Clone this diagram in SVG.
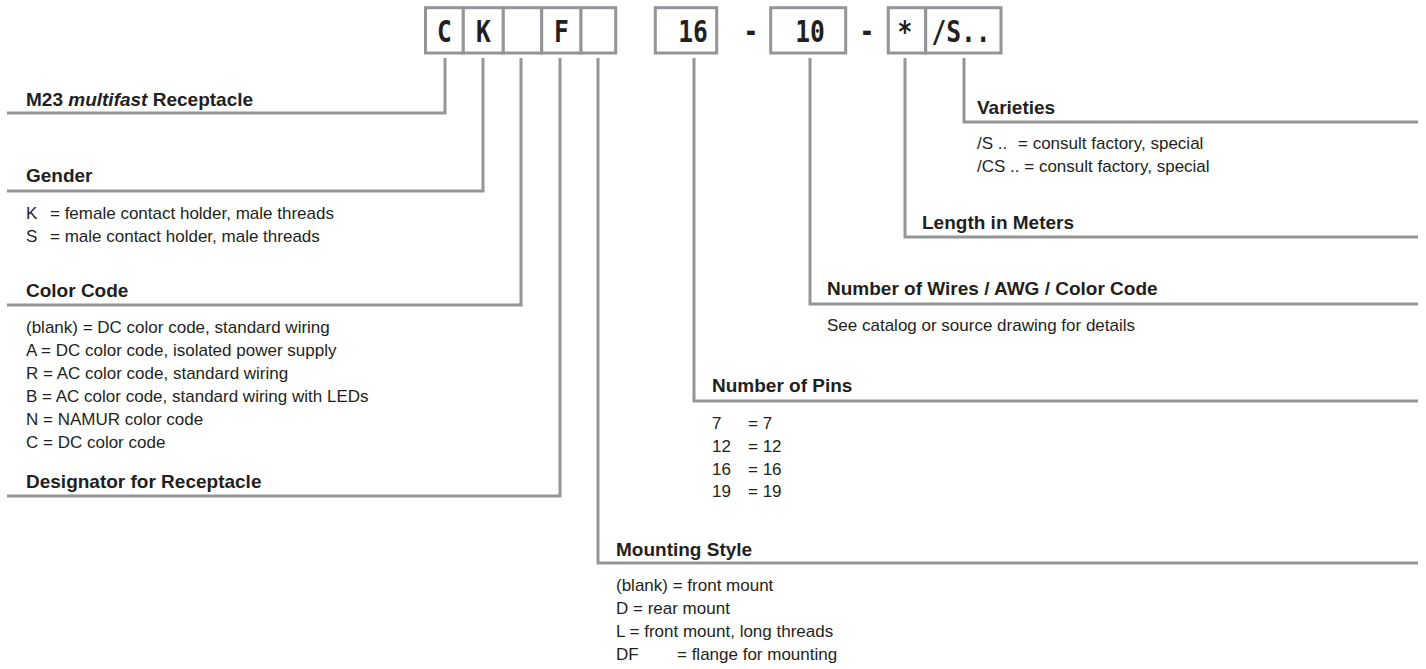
<svg xmlns="http://www.w3.org/2000/svg" width="1426" height="669" viewBox="0 0 1426 669">
<style>
.ln{fill:none;stroke:#939598;stroke-width:3;stroke-linejoin:miter;stroke-linecap:butt}
.bx{fill:#fff;stroke:#939598;stroke-width:3}
.code{font-family:"DejaVu Sans Mono",monospace;font-weight:bold;font-size:30px;fill:#231f20;text-anchor:middle}
.h{font-family:"Liberation Sans",Arial,sans-serif;font-weight:bold;font-size:19px;fill:#231f20}
.t{font-family:"Liberation Sans",Arial,sans-serif;font-size:17px;fill:#231f20}
</style>
<rect width="1426" height="669" fill="#fff"/>
<g id="connectors">
<path class="ln" d="M7,113 H445 V58"/>
<path class="ln" d="M7,191 H483 V58"/>
<path class="ln" d="M7,305 H521 V58"/>
<path class="ln" d="M7,496 H560 V58"/>
<path class="ln" d="M1418,563 H598 V58"/>
<path class="ln" d="M1418,401 H694 V58"/>
<path class="ln" d="M1418,304 H810 V58"/>
<path class="ln" d="M1418,237 H905 V58"/>
<path class="ln" d="M1418,122 H964 V58"/>
</g>
<g id="code">
<rect class="bx" x="425.5" y="7.7" width="37.8" height="45.3"/>
<rect class="bx" x="463.3" y="7.7" width="40" height="45.3"/>
<rect class="bx" x="503.3" y="7.7" width="38.4" height="45.3"/>
<rect class="bx" x="541.7" y="7.7" width="39.3" height="45.3"/>
<rect class="bx" x="581" y="7.7" width="34.7" height="45.3"/>
<rect class="bx" x="655.3" y="7.7" width="61.4" height="45.3"/>
<rect class="bx" x="770.7" y="7.7" width="75" height="45.3"/>
<rect class="bx" x="888.3" y="7.7" width="37.4" height="45.3"/>
<rect class="bx" x="925.7" y="7.7" width="75.3" height="45.3"/>
<text class="code" transform="translate(444.4,41.5) scale(0.82,1)">C</text>
<text class="code" transform="translate(483.3,41.5) scale(0.82,1)">K</text>
<text class="code" transform="translate(561.3,41.5) scale(0.82,1)">F</text>
<text class="code" transform="translate(693,41.5) scale(0.82,1)">16</text>
<text class="code" transform="translate(751,41.5) scale(0.82,1)">-</text>
<text class="code" transform="translate(810,41.5) scale(0.82,1)">10</text>
<text class="code" transform="translate(867,41.5) scale(0.82,1)">-</text>
<text class="code" transform="translate(905,41.5) scale(0.82,1)">*</text>
<text class="code" transform="translate(961,41.5) scale(0.82,1)">/S..</text>
</g>
<g id="receptacle">
<text class="h" x="26" y="106">M23 <tspan font-style="italic">multifast</tspan> Receptacle</text>
</g>
<g id="gender">
<text class="h" x="26" y="182">Gender</text>
<text class="t" y="219"><tspan x="26">K</tspan><tspan x="50">= female contact holder, male threads</tspan></text>
<text class="t" y="242"><tspan x="26">S</tspan><tspan x="50">= male contact holder, male threads</tspan></text>
</g>
<g id="color-code">
<text class="h" x="26" y="297">Color Code</text>
<text class="t" x="26" y="333">(blank) = DC color code, standard wiring</text>
<text class="t" x="26" y="356">A = DC color code, isolated power supply</text>
<text class="t" x="26" y="379">R = AC color code, standard wiring</text>
<text class="t" x="26" y="402">B = AC color code, standard wiring with LEDs</text>
<text class="t" x="26" y="425">N = NAMUR color code</text>
<text class="t" x="26" y="448">C = DC color code</text>
</g>
<g id="designator">
<text class="h" x="26" y="488">Designator for Receptacle</text>
</g>
<g id="mounting">
<text class="h" x="616" y="556">Mounting Style</text>
<text class="t" x="616" y="591">(blank) = front mount</text>
<text class="t" x="616" y="614">D = rear mount</text>
<text class="t" x="616" y="637">L = front mount, long threads</text>
<text class="t" y="660"><tspan x="616">DF</tspan><tspan x="677">= flange for mounting</tspan></text>
</g>
<g id="pins">
<text class="h" x="712" y="392">Number of Pins</text>
<text class="t" y="429"><tspan x="712">7</tspan><tspan x="748">= 7</tspan></text>
<text class="t" y="452"><tspan x="712">12</tspan><tspan x="748">= 12</tspan></text>
<text class="t" y="475"><tspan x="712">16</tspan><tspan x="748">= 16</tspan></text>
<text class="t" y="497"><tspan x="712">19</tspan><tspan x="748">= 19</tspan></text>
</g>
<g id="wires">
<text class="h" x="827" y="295">Number of Wires / AWG / Color Code</text>
<text class="t" x="827" y="331">See catalog or source drawing for details</text>
</g>
<g id="length">
<text class="h" x="922" y="229">Length in Meters</text>
</g>
<g id="varieties">
<text class="h" x="977" y="114">Varieties</text>
<text class="t" y="149"><tspan x="977">/S ..</tspan><tspan x="1018">= consult factory, special</tspan></text>
<text class="t" x="977" y="172">/CS .. = consult factory, special</text>
</g>
</svg>
